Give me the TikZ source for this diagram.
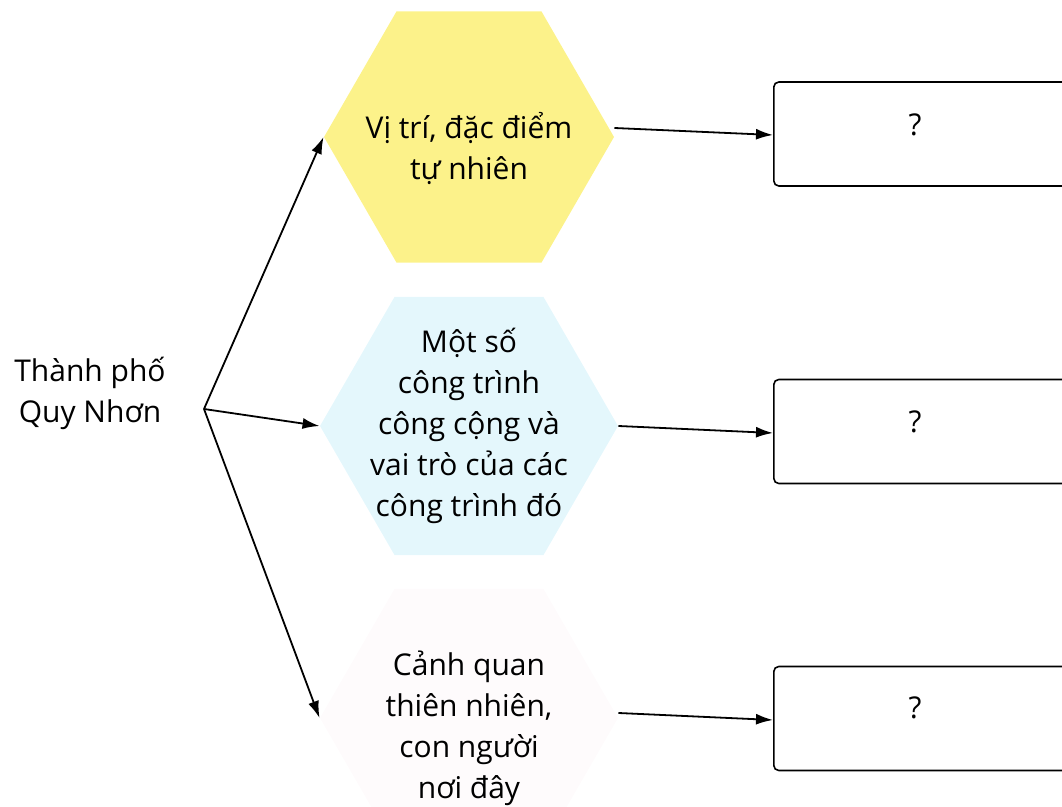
\documentclass[tikz,border=0pt]{standalone}
\usepackage{fontspec}
\setmainfont{Open Sans}
\usetikzlibrary{shapes.geometric,arrows.meta}
\definecolor{hexyellow}{RGB}{252,242,138}
\definecolor{hexcyan}{RGB}{228,247,252}
\definecolor{hexpink}{RGB}{254,251,252}
\tikzset{
  hexbox/.style={regular polygon,regular polygon sides=6,minimum size=149pt,inner sep=0pt},
  hextext/.style={align=center,font=\fontsize{15}{20.5}\selectfont},
  qbox/.style={draw,line width=0.8pt,rounded corners=2.5pt,minimum width=170pt,minimum height=52pt,anchor=west},
  arr/.style={-{Latex[length=8.5pt,width=5.5pt]},line width=0.9pt},
}
\begin{document}
\begin{tikzpicture}[x=0.5pt,y=-0.5pt]
  \useasboundingbox (0,0) rectangle (1062,807);
  % left
  \node[hextext] (city) at (90,393) {Thành phố\\Quy Nhơn};
  \coordinate (fork) at (204,409);
  % hexagons
  \node[hexbox,minimum size=145pt,fill=hexyellow,label={[hextext,yshift=-6pt]center:{Vị trí, đặc điểm\\tự nhiên}}] (h1) at (469,137) {};
  \node[hexbox,fill=hexcyan,label={[hextext]center:{Một số\\công trình\\công cộng và\\vai trò của các\\công trình đó}}] (h2) at (469,426) {};
  \node[hexbox,fill=hexpink,label={[hextext,yshift=-5pt]center:{Cảnh quan\\thiên nhiên,\\con người\\nơi đây}}] (h3) at (469,718) {};
  % boxes
  \node[qbox] (b1) at (773,134) {};
  \node[qbox] (b2) at (773,431.5) {};
  \node[qbox] (b3) at (773,718.5) {};
  \node[hextext] (q1) at (915,125) {?};
  \node[hextext] (q2) at (915,422) {?};
  \node[hextext] (q3) at (915,708) {?};
  % arrows
  \draw[arr] (fork) -- (h1.west);
  \draw[arr] (fork) -- (h2.west);
  \draw[arr] (fork) -- (h3.west);
  \draw[arr] ([yshift=4.5pt]h1.east) -- ([yshift=-0.5pt]b1.west);
  \draw[arr] (h2.east) -- ([yshift=-0.75pt]b2.west);
  \draw[arr] ([yshift=2.5pt]h3.east) -- ([yshift=-0.75pt]b3.west);
\end{tikzpicture}
\end{document}
